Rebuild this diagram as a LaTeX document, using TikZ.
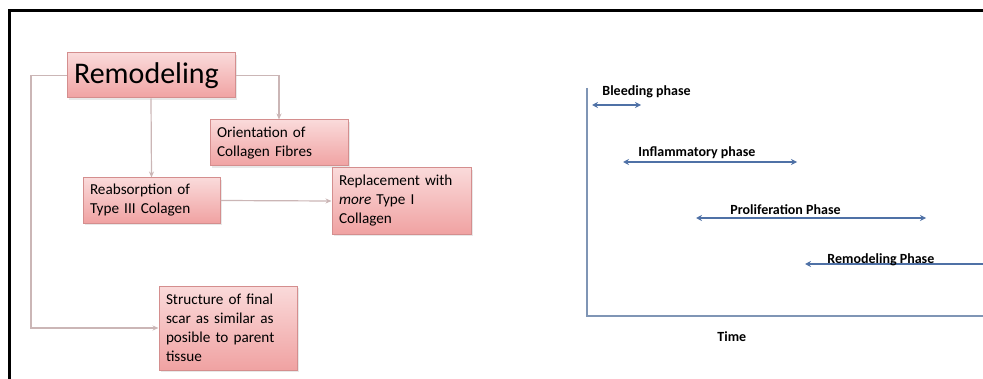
\documentclass[tikz,border=0pt]{standalone}
\usepackage{fontspec}
\setmainfont{Carlito}
\usetikzlibrary{arrows.meta,positioning,calc,shadows}
\definecolor{boxtop}{HTML}{FADADA}
\definecolor{boxbot}{HTML}{F0A2A2}
\definecolor{boxline}{HTML}{D48E8E}
\definecolor{linkgray}{HTML}{CBB6B6}
\definecolor{axisblue}{HTML}{7F95B5}
\definecolor{phaseblue}{HTML}{4F71A6}

\begin{document}
\begin{tikzpicture}[x=.5pt,y=-.5pt,
 stage/.style={draw=boxline,line width=.5pt,top color=boxtop,bottom color=boxbot,
  inner xsep=3.5pt,inner ysep=1pt,align=left,
  font=\fontsize{7.6}{9.5}\selectfont,
  drop shadow={opacity=.18,shadow xshift=1pt,shadow yshift=-1pt}},
 link/.style={draw=linkgray,line width=.6pt,-{Stealth[length=3pt,width=2.5pt]}},
 phase/.style={draw=phaseblue,line width=.8pt},
 tag/.style={anchor=west,inner sep=0pt,font=\fontsize{7}{8}\selectfont\bfseries}]
\useasboundingbox (0,0) rectangle (983,379);
\draw[line width=1.5pt] (9,379) -- (9,11) -- (983,11);
\node[stage,text width=77pt,minimum height=22.5pt,font=\fontsize{15}{17}\selectfont]
 (rem) at (151,75.5) {Remodeling};
\node[stage,text width=62pt,minimum height=23pt] (orient) at (279,143)
 {Orientation of\\Collagen Fibres};
\node[stage,text width=61.5pt,minimum height=22.5pt] (reab) at (151.5,200.5)
 {Reabsorption of\\Type III Colagen};
\node[stage,text width=62.5pt,minimum height=33pt] (repl) at (401.5,201)
 {Replacement with\\\textit{more} Type I\\Collagen};
\node[stage,text width=62pt,minimum height=42pt] (struct) at (228,328)
 {Structure of final\\scar as similar as\\posible to parent\\tissue};
\coordinate (spine) at (31,200);
\draw[link] (rem.west) -- (rem.west -| spine) |- (struct.west);
\draw[link] (rem.east) -| (orient.north);
\draw[link] (rem.south) -- (reab.north);
\draw[link] (reab.east) -- (repl.west);
\coordinate (top) at (587,88);
\coordinate (origin) at (587,316);
\coordinate (far) at (983,316);
\draw[draw=axisblue,line width=.8pt] (top) -- (origin) -- (far);
\foreach \nm/\xa/\xb/\yy/\lx/\ly/\txt in {bleed/592/641/105/602/92/Bleeding phase,
 infl/623/797/162/638/153/Inflammatory phase,
 prol/696/926/218/730/210/Proliferation Phase} {
 \coordinate (\nm a) at (\xa,\yy);
 \coordinate (\nm b) at (\xb,\yy);
 \draw[phase,{Stealth[length=3pt,width=3pt]}-{Stealth[length=3pt,width=3pt]}] (\nm a) -- (\nm b);
 \node[tag] (\nm) at (\lx,\ly) {\txt};}
\coordinate (rema) at (805,264);
\coordinate (remb) at (983,264);
\draw[phase,{Stealth[length=3pt,width=3pt]}-] (rema) -- (remb);
\node[tag] (remph) at (827,260) {Remodeling Phase};
\node[tag] (time) at (717,337) {Time};
\end{tikzpicture}
\end{document}
